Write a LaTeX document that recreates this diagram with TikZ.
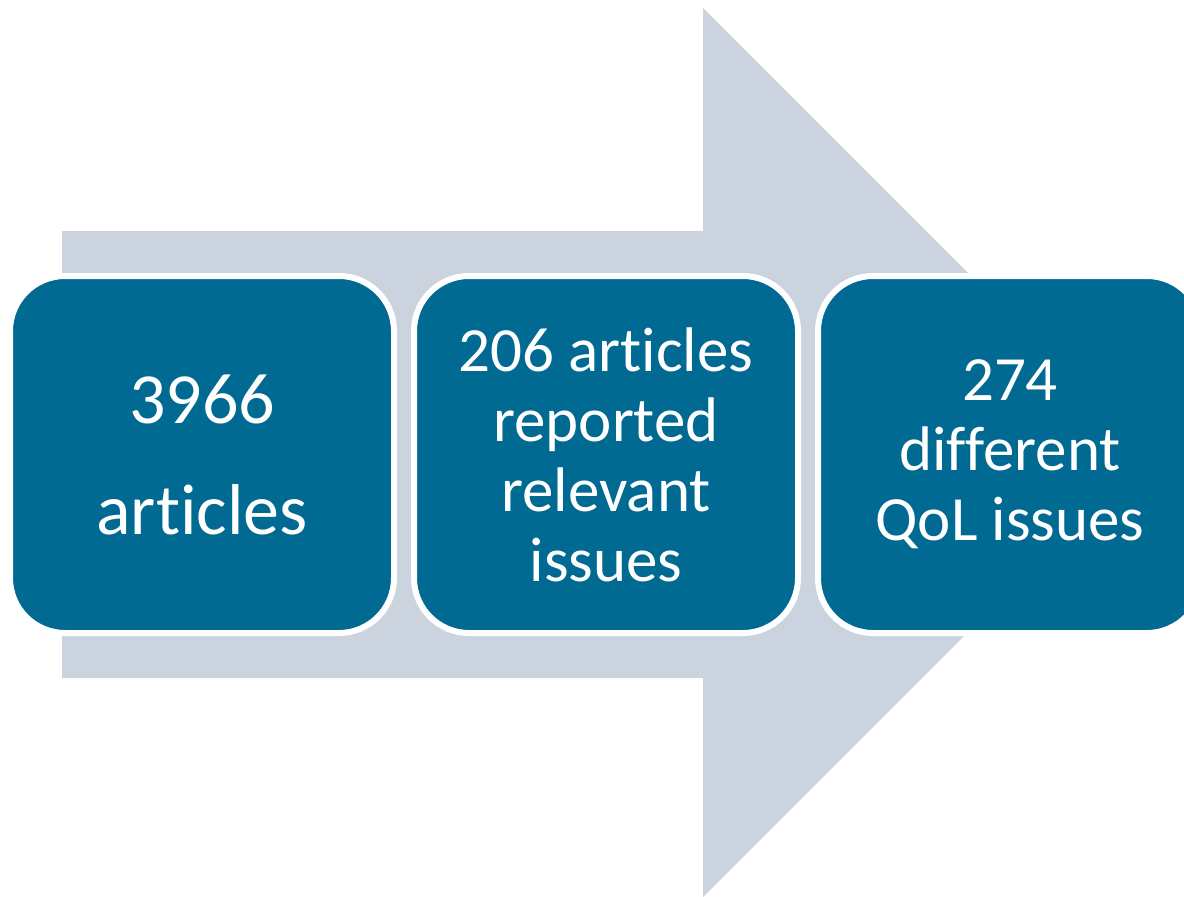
\documentclass[tikz,border=0pt]{standalone}
\usepackage{fontspec}
\setmainfont[Ligatures=NoCommon]{Carlito}
\usepackage{tikz}
\usetikzlibrary{positioning}
\def\boxwidth{384pt}
\def\boxheight{357pt}
\def\boxsep{20pt}
\definecolor{deepsea}{HTML}{006A92}
\definecolor{mist}{HTML}{CBD4DE}

\begin{document}
\begin{tikzpicture}[x=1pt,y=-1pt]
    \tikzstyle{stage}=[rectangle,rounded corners=55pt,draw=white,line width=6pt,fill=deepsea,text=white,
        minimum width=\boxwidth,minimum height=\boxheight,outer sep=0pt,inner sep=0pt,align=center,
        font=\fontsize{63}{70}\selectfont,node distance=\boxsep]
    \tikzstyle{big stage}=[stage,font=\fontsize{72}{111}\selectfont]

    \useasboundingbox (0,0) rectangle (1184,897);
    \clip (0,0) rectangle (1184,897);

    % The big arrow behind
    \fill[mist] (62,231) -- (703,231) -- (703,8) -- (1147.5,452.5) -- (703,897)
        -- (703,678) -- (62,678) -- cycle;

    % The three stages
    \node[big stage] (S-1) at (202,454.5) {3966\\articles};
    \node[stage, right=of S-1] (S-2) {206 articles\\reported\\relevant\\issues};
    \node[stage, right=of S-2] (S-3) {274\\different\\QoL issues};
\end{tikzpicture}
\end{document}
